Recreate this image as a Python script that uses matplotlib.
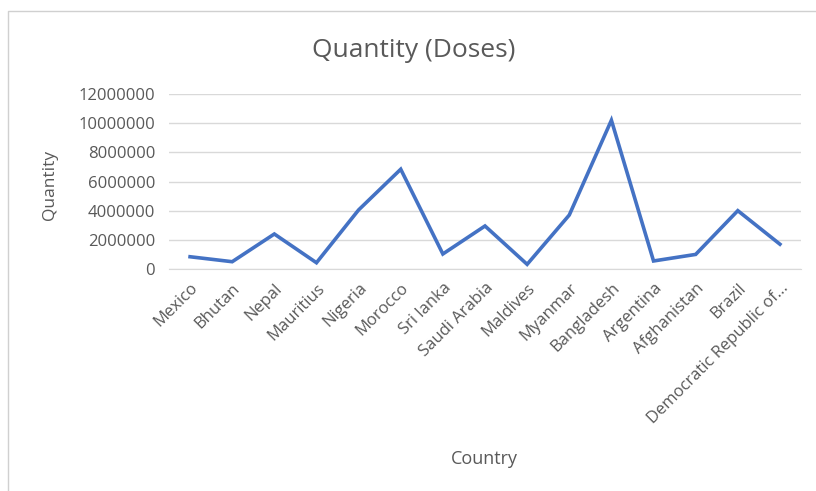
import matplotlib.pyplot as plt
from matplotlib.lines import Line2D

countries = ['Mexico', 'Bhutan', 'Nepal', 'Mauritius', 'Nigeria', 'Morocco',
             'Sri lanka', 'Saudi Arabia', 'Maldives', 'Myanmar', 'Bangladesh',
             'Argentina', 'Afghanistan', 'Brazil', 'Democratic Republic of...']
doses = [840000, 500000, 2400000, 430000, 4050000, 6840000,
         1030000, 2950000, 320000, 3700000, 10200000,
         550000, 1000000, 4000000, 1700000]
yticks = [0, 2000000, 4000000, 6000000, 8000000, 10000000, 12000000]

plt.rcParams['font.family'] = ['Open Sans', 'DejaVu Sans']
txt = '#595959'

fig = plt.figure(figsize=(8.16, 4.91), dpi=100)
ax = fig.add_axes([169/816, 1-269/491, 632/816, 175/491])

x = range(len(countries))
ax.plot(x, doses, color='#4472C4', lw=2.6, solid_joinstyle='miter')

ax.set_xlim(-0.5, len(countries) - 0.5)
ax.set_ylim(0, 12000000)
ax.set_yticks(yticks)
ax.set_yticklabels([str(v) for v in yticks], color=txt, fontsize=12)
ax.set_xticks(list(x))
ax.set_xticklabels(countries, rotation=45, ha='right', rotation_mode='anchor',
                   color=txt, fontsize=12)
ax.tick_params(axis='y', length=0, pad=10)
ax.tick_params(axis='x', length=0, pad=8)
ax.grid(axis='y', color='#d9d9d9', lw=1)
ax.set_axisbelow(True)
for s in ['top', 'right', 'left']:
    ax.spines[s].set_visible(False)
ax.spines['bottom'].set_color('#d9d9d9')

fig.text(50/816, 1-185/491, 'Quantity', color=txt, fontsize=12.5, rotation=90,
         ha='center', va='center')
fig.text(484/816, 1-459/491, 'Country', color=txt, fontsize=13, ha='center', va='center')
fig.text(414/816, 1-50/491, 'Quantity (Doses)', color=txt, fontsize=19, ha='center', va='center')

# chart border
fig.add_artist(Line2D([8/816, 8/816, 1], [0, 1-11/491, 1-11/491], color='#d0d0d0', lw=1))

fig.savefig('out.png', dpi=100)
